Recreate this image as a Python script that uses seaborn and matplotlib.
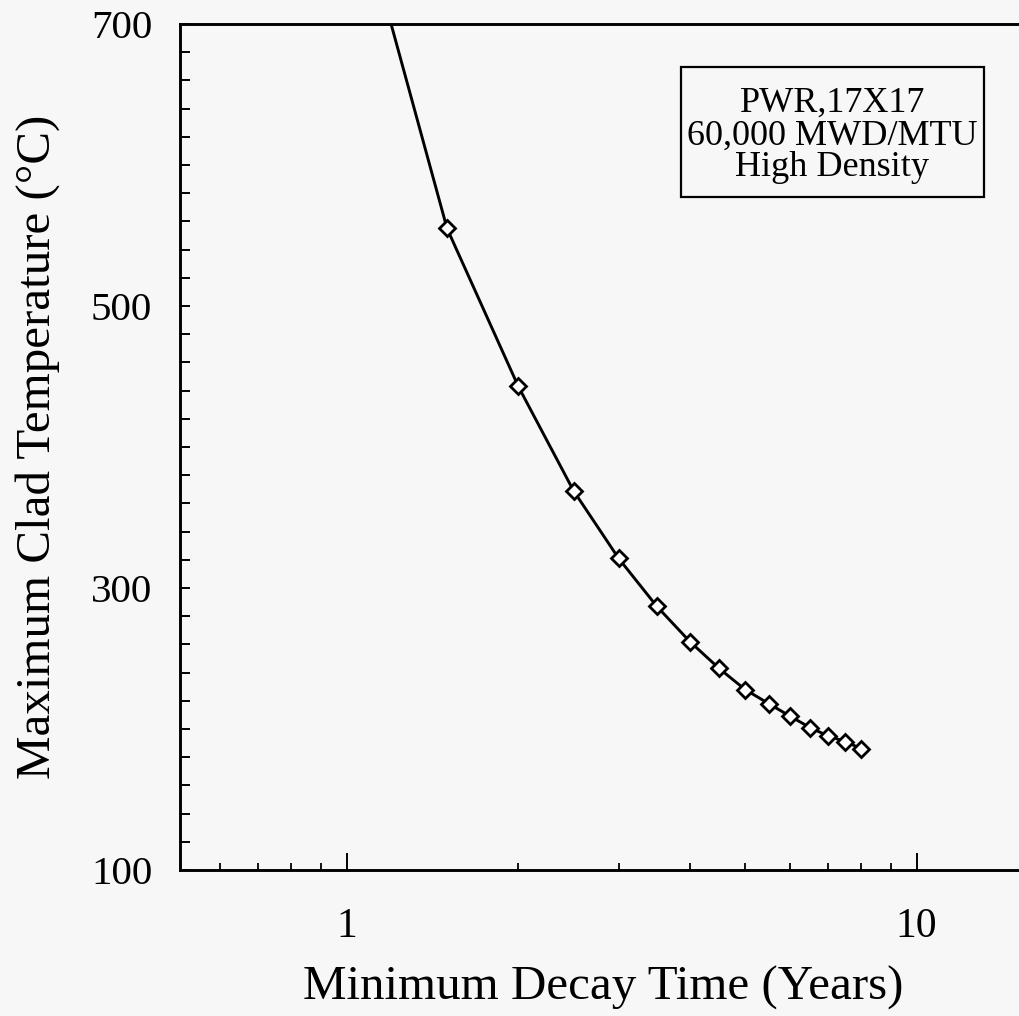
import matplotlib
matplotlib.use("Agg")
import matplotlib.pyplot as plt
import matplotlib.ticker as mticker
from matplotlib.patches import Rectangle
import numpy as np
import pandas as pd
import seaborn as sns

# ---- data ----
decay_years = [1.0, 1.5, 2.0, 2.5, 3.0, 3.5, 4.0, 4.5, 5.0, 5.5, 6.0, 6.5, 7.0, 7.5, 8.0]
clad_temp_c = [815, 555, 443, 369, 321, 287, 262, 243, 228, 218, 209, 201, 195, 191, 186]

x_ticks = [1, 10]
x_tick_labels = ["1", "10"]
y_ticks = [100, 300, 500, 700]
y_tick_labels = ["100", "300", "500", "700"]
note_lines = ["PWR,17X17", "60,000 MWD/MTU", "High Density"]
x_label = "Minimum Decay Time (Years)"
y_label = "Maximum Clad Temperature (°C)"

sns.set_theme(style="ticks")
plt.rcParams["font.family"] = ["Liberation Serif", "DejaVu Serif"]

W, H = 1020, 1016
bg = "#f7f7f7"
fig = plt.figure(figsize=(W / 100, H / 100), dpi=100, facecolor=bg)

# axes geometry in pixels (from top-left)
ax_left, ax_top, ax_bottom = 180, 24, 870
x_lo, x_hi = 0.51, 20.0
decade_px = 570
ax_w = decade_px * np.log10(x_hi / x_lo)
ax = fig.add_axes([ax_left / W, (H - ax_bottom) / H, ax_w / W, (ax_bottom - ax_top) / H])
ax.set_facecolor(bg)

df = pd.DataFrame({"years": decay_years, "temp": clad_temp_c})
sns.lineplot(data=df, x="years", y="temp", ax=ax, color="black", linewidth=2.1,
             marker="D", markersize=8.5, markerfacecolor="white",
             markeredgecolor="black", markeredgewidth=2.0, estimator=None, sort=True)
for ln in ax.lines:
    ln.set_markerfacecolor("white")
    ln.set_markeredgecolor("black")
    ln.set_markeredgewidth(2.0)

ax.set_xscale("log")
ax.set_xlim(x_lo, x_hi)
ax.set_ylim(100, 700)

ax.xaxis.set_major_locator(mticker.FixedLocator(x_ticks))
ax.xaxis.set_major_formatter(mticker.FixedFormatter(x_tick_labels))
ax.xaxis.set_minor_locator(mticker.LogLocator(base=10, subs=np.arange(2, 10), numticks=30))
ax.xaxis.set_minor_formatter(mticker.NullFormatter())
ax.yaxis.set_major_locator(mticker.FixedLocator(y_ticks))
ax.yaxis.set_major_formatter(mticker.FixedFormatter(y_tick_labels))
ax.yaxis.set_minor_locator(mticker.MultipleLocator(20))

ax.tick_params(axis="both", which="both", direction="in", color="black", labelcolor="black")
ax.tick_params(axis="y", which="both", length=7, width=1.4)
ax.tick_params(axis="y", which="major", labelsize=29.5, pad=20)
ax.tick_params(axis="x", which="major", length=12, width=1.4, labelsize=30, pad=27)
ax.tick_params(axis="x", which="minor", length=5, width=1.3)

for side in ["left", "bottom", "top"]:
    ax.spines[side].set_linewidth(2.1)
    ax.spines[side].set_color("black")
ax.spines["right"].set_visible(False)

ax.set_xlabel(x_label, fontsize=35.3, color="black")
ax.set_ylabel(y_label, fontsize=35.3, color="black")
ax.xaxis.set_label_coords((603 - ax_left) / ax_w, (ax_bottom - 966) / (ax_bottom - ax_top))
ax.yaxis.set_label_coords((60 - ax_left) / ax_w, 0.5)

# annotation box
bx0, by0, bx1, by1 = 681, 67, 984, 197
fig.patches.append(Rectangle((bx0 / W, 1 - by1 / H), (bx1 - bx0) / W, (by1 - by0) / H,
                             transform=fig.transFigure, fill=False, edgecolor="black",
                             linewidth=1.6))
cx = (bx0 + bx1) / 2
for txt, base in zip(note_lines, [112, 145, 176]):
    fig.text(cx / W, 1 - base / H, txt, ha="center", va="baseline", fontsize=26, color="black")

fig.savefig("out.png", dpi=100, facecolor=bg)
